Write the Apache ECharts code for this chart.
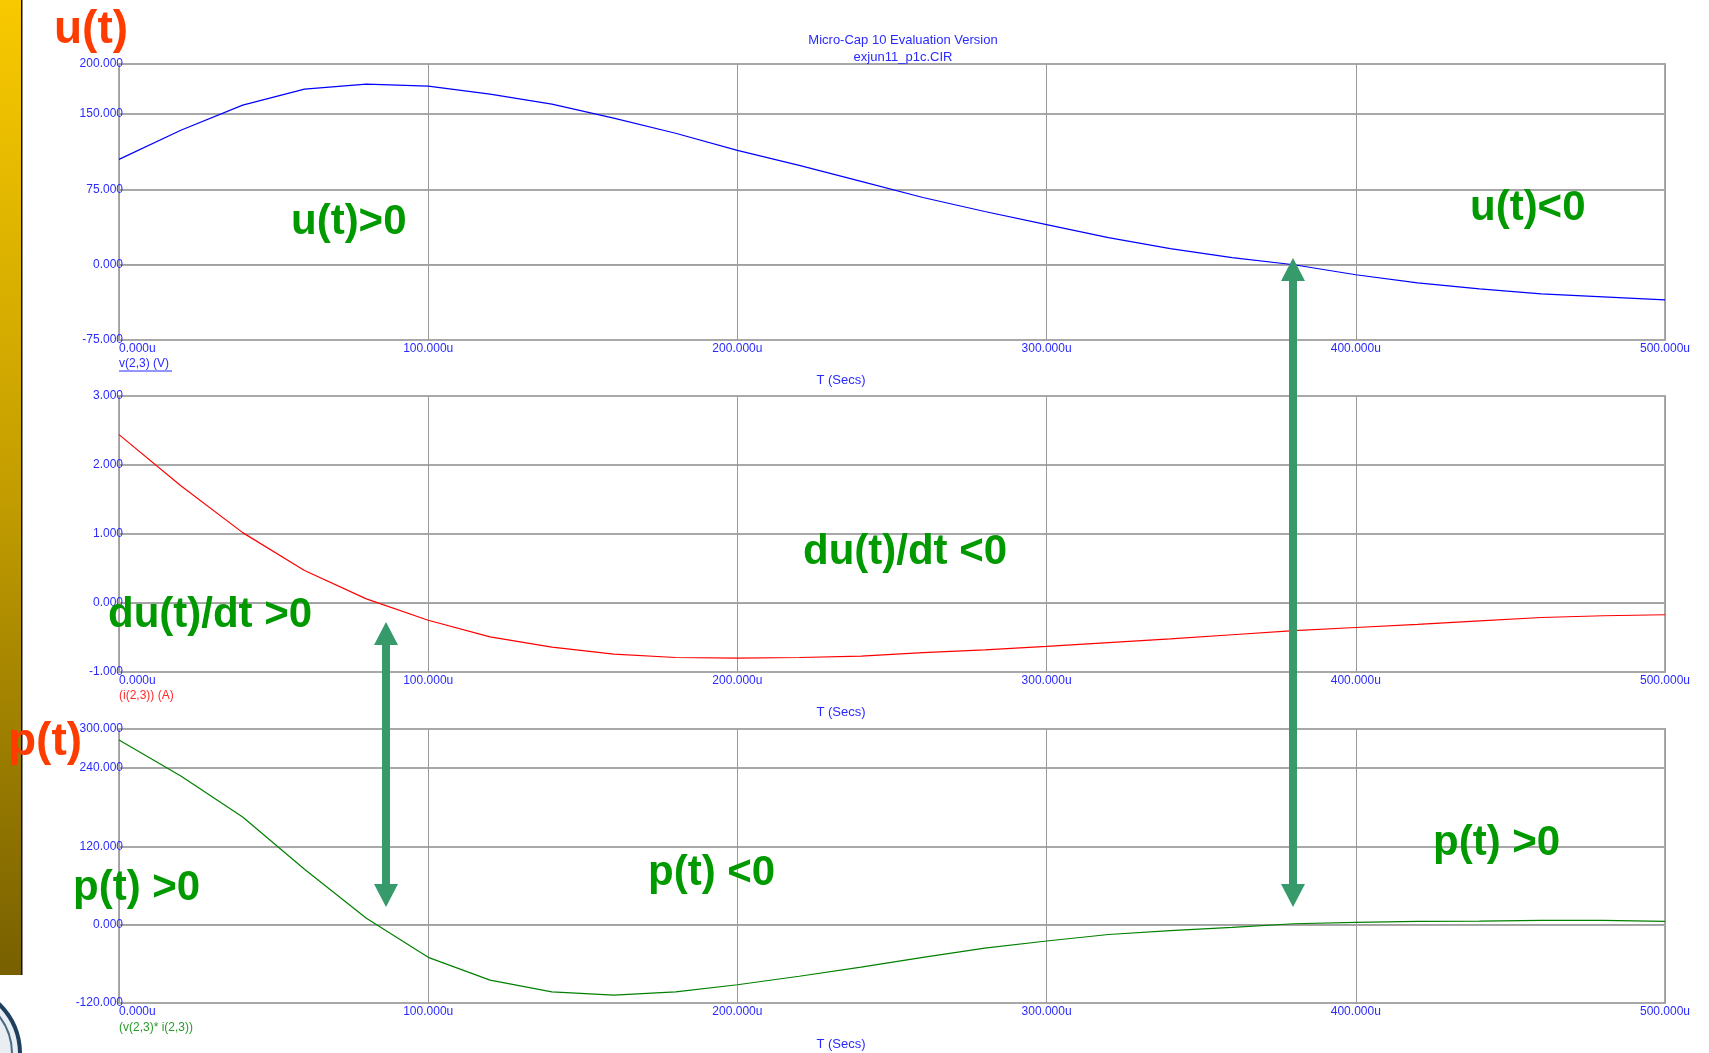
<!DOCTYPE html>
<html><head><meta charset="utf-8">
<script src="https://cdn.jsdelivr.net/npm/echarts@6/dist/echarts.min.js"></script>
<style>html,body{margin:0;padding:0;background:#fff}#c{width:1709px;height:1053px}</style>
</head><body><div id="c"></div><script>
// time in microseconds
const timeUs = [0,20,40,60,80,100,120,140,160,180,200,220,240,260,280,300,320,340,360,380,400,420,440,460,480,500];
// v(2,3) (V)
const voltage = [105,134,159,175,180,178,170,160,146,131,114,99,83,67,53,40,27,16,7,0,-10,-18,-24,-29,-32,-35];
// i(2,3) (A)
const current = [2.44,1.70,1.02,0.47,0.06,-0.25,-0.49,-0.64,-0.74,-0.79,-0.80,-0.79,-0.77,-0.72,-0.68,-0.63,-0.575,-0.52,-0.46,-0.40,-0.355,-0.31,-0.26,-0.21,-0.185,-0.17];
// v(2,3)*i(2,3)
const power = [283,228,165,85,10,-50,-85,-103,-108,-103,-92,-79,-65,-50,-36,-25,-15,-9,-4,1.5,3.5,5,5.5,6.5,6.5,5];

const yRanges = [[-75,200,75],[-1,3,1],[-120,300,120]];
const seriesData = [voltage, current, power];
const seriesColors = ['#0000ff','#ff0000','#008000'];

const FONT = '"Liberation Sans", Arial, sans-serif';
const LBL = '#2a2aff';
const grids = [{top:64,height:276},{top:396,height:276},{top:729,height:274}];

const chart = echarts.init(document.getElementById('c'));
const xAxes = [], yAxes = [], series = [];
grids.forEach((g,i)=>{
  xAxes.push({type:'value',gridIndex:i,min:0,max:500,interval:100,
    axisLine:{show:true,lineStyle:{color:'#a0a0a0',width:1}},
    axisTick:{show:false},
    axisLabel:{color:LBL,fontSize:12,fontFamily:FONT,margin:3,alignMinLabel:'left',
      formatter:v=>v.toFixed(3)+'u'},
    splitLine:{show:true,lineStyle:{color:'#9a9a9a',width:1}}});
  yAxes.push({type:'value',gridIndex:i,min:yRanges[i][0],max:yRanges[i][1],interval:yRanges[i][2],
    axisLine:{show:true,lineStyle:{color:'#a0a0a0',width:1}},
    axisTick:{show:false},
    axisLabel:{color:LBL,fontSize:12,fontFamily:FONT,margin:-4,formatter:v=>v.toFixed(3)},
    splitLine:{show:true,lineStyle:{color:'#a8a8a8',width:2}}});
  series.push({type:'line',xAxisIndex:i,yAxisIndex:i,showSymbol:false,symbol:'none',
    data:timeUs.map((t,k)=>[t,seriesData[i][k]]),
    lineStyle:{color:seriesColors[i],width:1.2},animation:false});
});

function arrow(x, yTop, yBot, up, down){
  const hl=23, hw=12, sw=4, pts=[];
  if(up){pts.push([x,yTop],[x+hw,yTop+hl],[x+sw,yTop+hl]);} else {pts.push([x+sw,yTop]);}
  if(down){pts.push([x+sw,yBot-hl],[x+hw,yBot-hl],[x,yBot],[x-hw,yBot-hl],[x-sw,yBot-hl]);} else {pts.push([x+sw,yBot],[x-sw,yBot]);}
  if(up){pts.push([x-sw,yTop+hl],[x-hw,yTop+hl]);} else {pts.push([x-sw,yTop]);}
  return {type:'polygon',z:100,shape:{points:pts},style:{fill:'#379a6b'}};
}
function txt(t,x,y,fill,font,align){
  return {type:'text',z:100,style:{text:t,x:x,y:y,fill:fill,font:font,align:align||'left',verticalAlign:'middle'}};
}
const bigG = 'bold 42px ' + FONT;
const bigR = 'bold 46px ' + FONT;
const small = '12px ' + FONT;
const mid = '13px ' + FONT;

const graphics = [
  {type:'rect',z:50,shape:{x:0,y:0,width:21,height:975},
   style:{fill:new echarts.graphic.LinearGradient(0,0,0,1,[{offset:0,color:'#f8c900'},{offset:0.5,color:'#c49e00'},{offset:1,color:'#786000'}])}},
  {type:'rect',z:50,shape:{x:21,y:0,width:1.5,height:975},style:{fill:'#111'}},
  {type:'circle',z:50,shape:{cx:-50,cy:1054,r:70},style:{fill:'#e8eef2',stroke:'#1f3f5f',lineWidth:4}},
  {type:'circle',z:50,shape:{cx:-50,cy:1054,r:62},style:{fill:'none',stroke:'#4a6a86',lineWidth:2}},
  txt('Micro-Cap 10 Evaluation Version',903,40,'#2a2aff',mid,'center'),
  txt('exjun11_p1c.CIR',903,57,'#2a2aff',mid,'center'),
  txt('v(2,3) (V)',119,364,'#2a2aff',small),
  {type:'line',z:100,shape:{x1:119,y1:371,x2:172,y2:371},style:{stroke:'#2a2aff',lineWidth:1}},
  txt('(i(2,3)) (A)',119,696,'#ff2a2a',small),
  txt('(v(2,3)* i(2,3))',119,1028,'#2a9a2a',small),
  txt('T (Secs)',841,380,'#2a2aff',mid,'center'),
  txt('T (Secs)',841,712,'#2a2aff',mid,'center'),
  txt('T (Secs)',841,1044,'#2a2aff',mid,'center'),
  txt('u(t)',54,30,'#ff3c00',bigR),
  txt('p(t)',8,742,'#ff3c00',bigR),
  txt('u(t)>0',291,222,'#009900',bigG),
  txt('u(t)<0',1470,208,'#009900',bigG),
  txt('du(t)/dt >0',108,615,'#009900',bigG),
  txt('du(t)/dt <0',803,552,'#009900',bigG),
  txt('p(t) >0',73,888,'#009900',bigG),
  txt('p(t) <0',648,873,'#009900',bigG),
  txt('p(t) >0',1433,843,'#009900',bigG),
  arrow(386,622,907,true,true),
  arrow(1293,258,907,true,true)
];

chart.setOption({
  animation:false,
  backgroundColor:'#ffffff',
  grid:grids.map(g=>({left:119,right:44,top:g.top,height:g.height,show:true,borderColor:'#aaaaaa',borderWidth:2,backgroundColor:'transparent'})),
  xAxis:xAxes, yAxis:yAxes, series:series, graphic:graphics
});
</script></body></html>
